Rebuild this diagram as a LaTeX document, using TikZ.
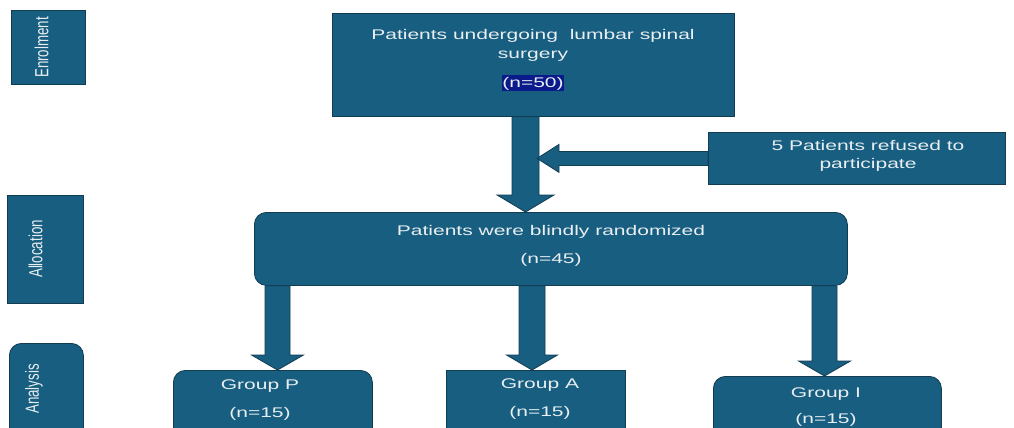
\documentclass[tikz,border=0pt]{standalone}
\usepackage{fontspec}
\setmainfont{Liberation Sans}[FakeStretch=1.5]
\newfontfamily\sidefont{Liberation Sans}[FakeStretch=0.7]
\usetikzlibrary{calc}
\definecolor{boxfill}{HTML}{175E80}
\definecolor{boxline}{HTML}{123C52}
\definecolor{txtc}{HTML}{E8EEF1}
\definecolor{hl}{HTML}{0A1A8A}
\tikzset{
  sq/.style={draw=boxline, line width=0.8pt, fill=boxfill, inner sep=0pt, anchor=north west},
  rnd/.style={sq, rounded corners=12pt},
  lbl/.style={text=txtc, font=\fontsize{14}{16}\selectfont, anchor=base, inner sep=0pt},
  side/.style={text=txtc, font=\sidefont\fontsize{19}{20}\selectfont, rotate=90, inner sep=0pt},
  blockarrow/.style={draw=boxline, line width=0.8pt, fill=boxfill, line join=miter},
}
% from, to, x centre, shaft half width, head half width, head length
\newcommand\blockdown[6]{%
  \path[blockarrow] let \p1=(#1.south), \p2=(#2.north) in
    ({#3pt-#4pt},\y1) -- ({#3pt+#4pt},\y1) -- ({#3pt+#4pt},{\y2+#6pt})
    -- ({#3pt+#5pt},{\y2+#6pt}) -- (#3pt,\y2) -- ({#3pt-#5pt},{\y2+#6pt})
    -- ({#3pt-#4pt},{\y2+#6pt}) -- cycle;}
\begin{document}
\begin{tikzpicture}[x=1pt, y=-1pt]
\path[use as bounding box] (0,0) rectangle (1014,428);
\clip (0,0) rectangle (1014,428);

% side boxes
\node[sq, minimum width=74pt, minimum height=74pt] (enrol) at (11,10) {};
\node[side] (enroltxt) at (41.5,47.5) {Enrolment};
\node[sq, minimum width=76pt, minimum height=108pt] (alloc) at (7,195) {};
\node[side] (alloctxt) at (35.5,249) {Allocation};
\node[rnd, minimum width=74pt, minimum height=110pt] (anal) at (9,343) {};
\node[side] (analtxt) at (34,389) {Analysis};

% main boxes
\node[sq, minimum width=402pt, minimum height=103pt] (top) at (332,13) {};
\node[lbl] (t1) at (533,40) {Patients undergoing\ \ lumbar spinal};
\node[lbl] (t2) at (533,59) {surgery};
\node[lbl, fill=hl, inner xsep=0.5pt, inner ysep=1.5pt] (t3) at (533,87) {(n=50)};

\node[sq, minimum width=297pt, minimum height=52pt] (refused) at (708,132) {};
\node[lbl] (r1) at (868,150) {5 Patients refused to};
\node[lbl] (r2) at (868,168) {participate};

\node[rnd, minimum width=593pt, minimum height=73pt] (rand) at (254,212) {};
\node[lbl] (m1) at (551,235) {Patients were blindly randomized};
\node[lbl] (m2) at (551,263) {(n=45)};

\node[rnd, minimum width=199pt, minimum height=70pt] (gP) at (173,370) {};
\node[lbl] (p1) at (260,389) {Group P};
\node[lbl] (p2) at (260,417) {(n=15)};

\node[sq, minimum width=179pt, minimum height=70pt] (gA) at (446,370) {};
\node[lbl] (a1) at (540,388) {Group A};
\node[lbl] (a2) at (540,416) {(n=15)};

\node[rnd, minimum width=228pt, minimum height=70pt] (gI) at (713,376) {};
\node[lbl] (i1) at (826,397) {Group I};
\node[lbl] (i2) at (826,423) {(n=15)};

% connectors
\blockdown{top}{rand}{525.5}{13.5}{28.5}{17}
\coordinate (join) at (537,158);
\path[blockarrow] let \p1=(refused.west), \p2=(join) in
  (\x1,{\y1+7pt}) -- ({\x2+22pt},{\y1+7pt}) -- ({\x2+22pt},{\y1+14pt})
  -- (\x2,\y1) -- ({\x2+22pt},{\y1-14pt}) -- ({\x2+22pt},{\y1-7pt})
  -- (\x1,{\y1-7pt}) -- cycle;
\blockdown{rand}{gP}{277.5}{12.5}{26}{15}
\blockdown{rand}{gA}{532}{13}{25.5}{15}
\blockdown{rand}{gI}{824.5}{12.5}{26}{15}
\end{tikzpicture}
\end{document}
